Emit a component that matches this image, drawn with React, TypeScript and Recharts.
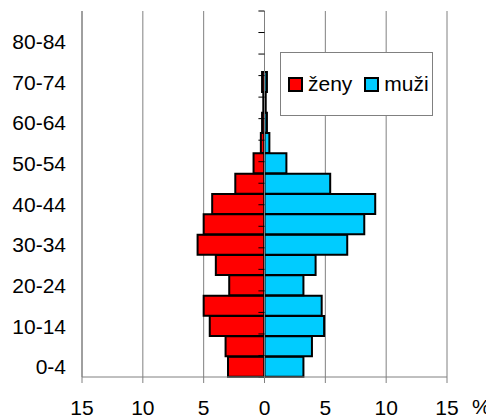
import { Bar, BarChart, CartesianGrid, Legend, ReferenceArea, ReferenceLine, XAxis, YAxis } from "recharts";

const ages = [
  "0-4", "5-9", "10-14", "15-19", "20-24", "25-29", "30-34", "35-39", "40-44",
  "45-49", "50-54", "55-59", "60-64", "65-69", "70-74", "75-79", "80-84", "85+",
];
const zeny = [3.0, 3.2, 4.5, 5.0, 2.9, 4.0, 5.5, 5.0, 4.3, 2.4, 0.9, 0.3, 0.2, 0.1, 0.2, 0, 0, 0];
const muzi = [3.2, 3.9, 4.9, 4.7, 3.2, 4.2, 6.8, 8.2, 9.1, 5.4, 1.8, 0.4, 0.2, 0.1, 0.2, 0, 0, 0];
const xTicks = [-15, -10, -5, 0, 5, 10, 15];
const legendOrder = ["zeny", "muzi"];

const data = ages.map((age, i) => ({ age, zeny: -zeny[i], muzi: muzi[i] }));
const boundaries = ages.map((_, i) => i).concat(ages.length);

const font = "'Liberation Sans', Arial, sans-serif";
const gray = "#808080";

function LegendBox({ payload }: any) {
  const items = [...(payload || [])].sort(
    (a: any, b: any) => legendOrder.indexOf(a.dataKey) - legendOrder.indexOf(b.dataKey)
  );
  return (
    <div
      style={{
        boxSizing: "border-box",
        height: 64,
        border: `1px solid ${gray}`,
        background: "#fff",
        display: "flex",
        alignItems: "center",
        paddingLeft: 7,
        fontFamily: font,
        fontSize: 21,
        color: "#000",
      }}
    >
      {items.map((p: any, i: number) => (
        <span key={i} style={{ display: "flex", alignItems: "center", marginRight: i === 0 ? 12 : 0 }}>
          <span
            style={{
              display: "inline-block",
              boxSizing: "border-box",
              width: 15,
              height: 15,
              background: p.color,
              border: "2px solid #000",
              marginRight: 5,
            }}
          />
          {p.value}
        </span>
      ))}
    </div>
  );
}

export default function App() {
  return (
    <div style={{ fontFamily: font }}>
      <BarChart
        width={486}
        height={410}
        data={data}
        layout="vertical"
        stackOffset="sign"
        barCategoryGap={0}
        margin={{ top: 3, right: 47, left: 4, bottom: 11 }}
      >
        <CartesianGrid horizontal={false} stroke={gray} />
        <XAxis
          type="number"
          domain={[-15, 15]}
          ticks={xTicks}
          tickFormatter={(v: number) => String(Math.abs(v))}
          tick={{ fill: "#000", fontSize: 21, fontFamily: font }}
          axisLine={{ stroke: gray }}
          tickLine={{ stroke: gray }}
          tickMargin={17}
          height={30}
          label={{ value: "%", position: "right", offset: 25, dy: 15, fill: "#000", fontSize: 21, fontFamily: font }}
        />
        <YAxis
          yAxisId="age"
          type="category"
          dataKey="age"
          reversed
          interval={1}
          width={70}
          tick={{ fill: "#000", fontSize: 21, fontFamily: font }}
          axisLine={{ stroke: gray }}
          tickLine={false}
          tickMargin={10}
        />
        <YAxis yAxisId="grid" type="number" domain={[0, ages.length]} hide />
        <ReferenceArea yAxisId="grid" x1={-15} x2={15} y1={0} y2={ages.length} fill="none" stroke={gray} />
        <Legend
          content={<LegendBox />}
          layout="horizontal"
          verticalAlign="middle"
          align="center"
          wrapperStyle={{ left: 272, top: 44, width: 153 }}
        />
        <Bar yAxisId="age" dataKey="zeny" name="ženy" stackId="a" fill="#FF0000" stroke="#000" strokeWidth={2} isAnimationActive={false} />
        <Bar yAxisId="age" dataKey="muzi" name="muži" stackId="a" fill="#00CCFF" stroke="#000" strokeWidth={2} isAnimationActive={false} />
        <ReferenceLine yAxisId="grid" x={0} stroke={gray} />
        {boundaries.map((b) => (
          <ReferenceLine
            key={b}
            yAxisId="grid"
            segment={[{ x: -0.5, y: b }, { x: 0, y: b }]}
            stroke="#000"
          />
        ))}
      </BarChart>
    </div>
  );
}
